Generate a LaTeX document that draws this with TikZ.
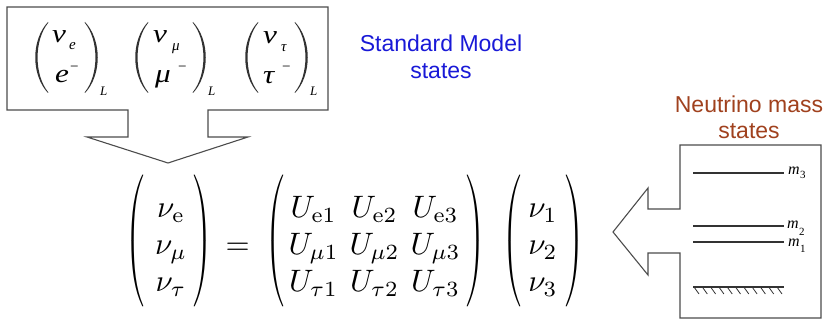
\documentclass[tikz,border=0pt]{standalone}
\usepackage{amsmath}
\usepackage{graphicx}
\usepackage[no-math]{fontspec}
\newfontfamily\arial{Liberation Sans}
\newfontfamily\tms{Liberation Serif}
\definecolor{smblue}{RGB}{25,25,215}
\definecolor{nmbrown}{RGB}{160,65,30}
\definecolor{parc}{RGB}{50,50,50}
\newcommand{\mylpar}[1]{\fill[parc] (#1,22) .. controls (#1-17,40) and (#1-17,75) .. (#1,93) -- (#1+0.3,92.3) .. controls (#1-14,75) and (#1-14,40) .. (#1+0.3,22.7) -- cycle;}
\newcommand{\myrpar}[1]{\fill[parc] (#1,22) .. controls (#1+17,40) and (#1+17,75) .. (#1,93) -- (#1-0.3,92.3) .. controls (#1+14,75) and (#1+14,40) .. (#1-0.3,22.7) -- cycle;}
\newcommand{\hx}[1]{\scalebox{1.2}[1]{#1}}
\newcommand{\eqlp}{\raisebox{1.55pt}{\scalebox{0.7}[1.18]{$\delimiterfactor=1000\delimitershortfall=0pt\left(\vrule height 20.5pt depth 15.5pt width 0pt\right.$}}}
\newcommand{\eqrp}{\raisebox{1.55pt}{\scalebox{0.7}[1.18]{$\delimiterfactor=1000\delimitershortfall=0pt\left.\vrule height 20.5pt depth 15.5pt width 0pt\right)$}}}
\begin{document}
\begin{tikzpicture}[x=1pt,y=-1pt,
  outl/.style={draw=black!70, line width=1.1pt, line join=miter},
  lev/.style={draw=black!80, line width=1.1pt},
  lbl/.style={inner sep=0pt, anchor=base, font=\fontsize{23}{27}\selectfont\arial},
  tv/.style={inner sep=0pt, anchor=base west, font=\fontsize{26}{30}\selectfont\tms\itshape},
  tvs/.style={inner sep=0pt, anchor=base west, font=\fontsize{15}{17}\selectfont\tms\itshape},
  tvm/.style={inner sep=0pt, anchor=base west, font=\fontsize{15}{17}\selectfont\tms},
  tvl/.style={inner sep=0pt, anchor=base west, font=\fontsize{13}{15}\selectfont\tms\itshape},
  ml/.style={inner sep=0pt, anchor=base west, font=\fontsize{16}{18}\selectfont\tms\itshape},
  mls/.style={inner sep=0pt, anchor=base west, font=\fontsize{11}{13}\selectfont\tms},
]
\useasboundingbox (0,0) rectangle (827,320);

% top box with down arrow
\draw[outl] (128,110) -- (7,110) -- (7,7) -- (328,7) -- (328,110) -- (208,110)
  -- (208,137) -- (248,137) -- (168,163) -- (87,137) -- (128,137) -- cycle;

% doublets
\mylpar{48} \myrpar{85}
\node[tv]  (n1)  at (52,43) {\hx{ν}};
\node[tvs] (n1s) at (69,50) {e};
\node[tv]  (l1)  at (55,83) {\hx{e}};
\node[tvm] (l1m) at (70,72) {−};
\node[tvl] (L1)  at (100,96) {L};

\mylpar{148} \myrpar{193}
\node[tv]  (n2)  at (153,43) {\hx{ν}};
\node[tvs] (n2s) at (172,51) {μ};
\node[tv]  (l2)  at (155,83) {\hx{μ}};
\node[tvm] (l2m) at (178,72) {−};
\node[tvl] (L2)  at (208,96) {L};

\mylpar{258} \myrpar{295}
\node[tv]  (n3)  at (263,44) {\hx{ν}};
\node[tvs] (n3s) at (281,52) {τ};
\node[tv]  (l3)  at (263,84) {\hx{τ}};
\node[tvm] (l3m) at (282,72) {−};
\node[tvl] (L3)  at (310,96) {L};

% labels
\node[lbl, text=smblue] (sm1) at (441,52) {Standard Model};
\node[lbl, text=smblue] (sm2) at (441,79) {states};
\node[lbl, text=nmbrown] (nm1) at (749,113) {Neutrino mass};
\node[lbl, text=nmbrown] (nm2) at (749,139) {states};

% mass box with left arrow
\draw[outl] (680,209) -- (680,145) -- (821,145) -- (821,318) -- (680,318) -- (680,253)
  -- (648,253) -- (648,275) -- (613,232) -- (648,188) -- (648,209) -- cycle;

\coordinate (a3) at (693,173); \coordinate (b3) at (784,173);
\coordinate (a2) at (693,226); \coordinate (b2) at (784,226);
\coordinate (a1) at (693,242); \coordinate (b1) at (784,242);
\coordinate (a0) at (693,287); \coordinate (b0) at (784,287);
\draw[lev] (a3) -- (b3);
\draw[lev] (a2) -- (b2);
\draw[lev] (a1) -- (b1);
\draw[lev] (a0) -- (b0);
\foreach \i in {0,...,10} {
  \draw[black!80, line width=0.8pt] (694+8.3*\i,287) -- (699+8.3*\i,294);
}
\node[ml]  (m3)  at (788,175) {m};
\node[mls] (m3s) at (800,179) {3};
\node[ml]  (m2)  at (787,229) {m};
\node[mls] (m2s) at (799,236) {2};
\node[ml]  (m1)  at (788,247) {m};
\node[mls] (m1s) at (800,253) {1};

% main equation
\node[inner sep=0pt, anchor=west] (eq) at (125,241) {\scalebox{3.1}{$\eqlp\hskip 2.65pt
 \begin{array}{@{}c@{}}\nu_{\mathrm{e}}\\ \nu_\mu\\ \nu_\tau\end{array}\hskip 1.3pt\eqrp
 \hskip 1.4pt = \hskip 2.5pt \eqlp\hskip 0.3pt
 \begin{array}{@{}c@{\hskip 3.5pt}c@{\hskip 3.5pt}c@{}}U_{\mathrm{e}1} & U_{\mathrm{e}2} & U_{\mathrm{e}3}\\
 U_{\mu1} & U_{\mu2} & U_{\mu3}\\
 U_{\tau1} & U_{\tau2} & U_{\tau3}\end{array}\hskip 1pt\eqrp\hskip 5.5pt
 \eqlp\hskip 1.4pt\begin{array}{@{}c@{}}\nu_1\\ \nu_2\\ \nu_3\end{array}\hskip 1.6pt\eqrp$}};
\end{tikzpicture}
\end{document}
